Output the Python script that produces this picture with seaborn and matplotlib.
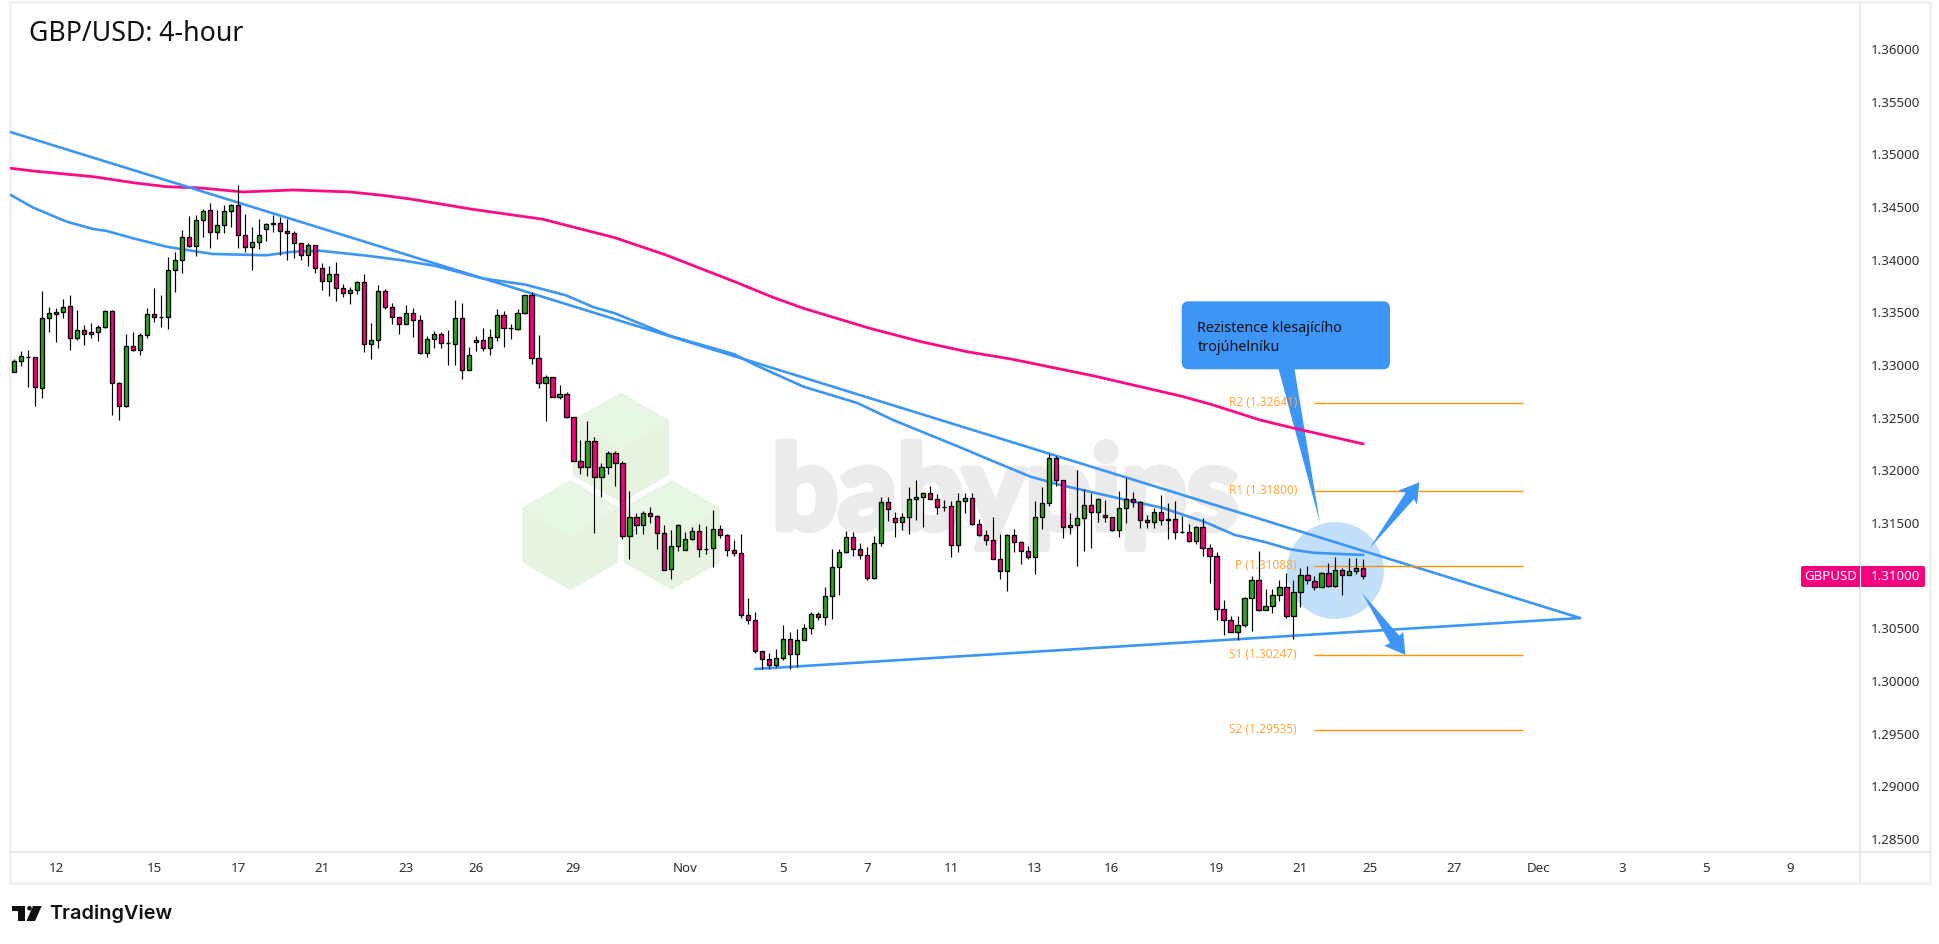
import numpy as np
import pandas as pd
import matplotlib
matplotlib.use("Agg")
import matplotlib.pyplot as plt
from matplotlib.patches import Polygon, Circle, FancyBboxPatch, Rectangle
import matplotlib.patheffects as pe
import seaborn as sns

# velas GBP/USD 4h
opens = [
    1.32938, 1.33036, 1.33078, 1.33074, 1.32786, 1.33444, 1.33482, 1.33501, 1.33558, 1.33254,
    1.33330, 1.33311, 1.33311, 1.33359, 1.33511, 1.32827, 1.32608, 1.33178, 1.33147, 1.33283,
    1.33482, 1.33454, 1.33454, 1.33900, 1.33995, 1.34213, 1.34134, 1.34375, 1.34470, 1.34261,
    1.34327, 1.34460, 1.34517, 1.34232, 1.34118, 1.34166, 1.34289, 1.34346, 1.34346, 1.34270,
    1.34251, 1.34156, 1.34042, 1.34137, 1.33919, 1.33796, 1.33862, 1.33729, 1.33682, 1.33710,
    1.33786, 1.33197, 1.33235, 1.33701, 1.33549, 1.33454, 1.33387, 1.33492, 1.33425, 1.33118,
    1.33245, 1.33292, 1.33207, 1.33197, 1.33444, 1.32950, 1.33216, 1.33235, 1.33159, 1.33264,
    1.33473, 1.33349, 1.33340, 1.33492, 1.33663, 1.33064, 1.32833, 1.32890, 1.32694, 1.32722,
    1.32504, 1.32086, 1.32029, 1.32276, 1.31934, 1.32029, 1.32162, 1.32067, 1.31374, 1.31554,
    1.31478, 1.31592, 1.31564, 1.31402, 1.31060, 1.31279, 1.31241, 1.31345, 1.31421, 1.31257,
    1.31260, 1.31440, 1.31383, 1.31241, 1.31212, 1.30624, 1.30576, 1.30282, 1.30206, 1.30149,
    1.30215, 1.30396, 1.30253, 1.30386, 1.30500, 1.30633, 1.30605, 1.30804, 1.31079, 1.31222,
    1.31364, 1.31250, 1.31193, 1.30975, 1.31307, 1.31697, 1.31545, 1.31507, 1.31554, 1.31725,
    1.31744, 1.31782, 1.31725, 1.31649, 1.31659, 1.31288, 1.31706, 1.31735, 1.31488, 1.31383,
    1.31336, 1.31155, 1.31041, 1.31383, 1.31317, 1.31231, 1.31174, 1.31554, 1.31687, 1.32115,
    1.31906, 1.31459, 1.31478, 1.31545, 1.31668, 1.31602, 1.31573, 1.31554, 1.31431, 1.31640,
    1.31725, 1.31697, 1.31526, 1.31507, 1.31602, 1.31535, 1.31535, 1.31412, 1.31412, 1.31326,
    1.31459, 1.31260, 1.31184, 1.30681, 1.30576, 1.30462, 1.30529, 1.30785, 1.30956, 1.30671,
    1.30709, 1.30814, 1.30890, 1.30614, 1.30842, 1.31003, 1.30947, 1.30890, 1.31023, 1.30899,
    1.31051, 1.31003, 1.31041, 1.31070,
]
highs = [
    1.33055, 1.33131, 1.33140, 1.33080, 1.33704, 1.33552, 1.33539, 1.33625, 1.33663, 1.33523,
    1.33381, 1.33400, 1.33381, 1.33523, 1.33520, 1.32840, 1.33295, 1.33314, 1.33305, 1.33539,
    1.33729, 1.33666, 1.34023, 1.34074, 1.34283, 1.34416, 1.34422, 1.34479, 1.34536, 1.34470,
    1.34517, 1.34527, 1.34707, 1.34432, 1.34312, 1.34384, 1.34346, 1.34426, 1.34403, 1.34384,
    1.34274, 1.34156, 1.34156, 1.34137, 1.33967, 1.33938, 1.33976, 1.33767, 1.33742, 1.33796,
    1.33862, 1.33400, 1.33758, 1.33720, 1.33587, 1.33460, 1.33571, 1.33542, 1.33473, 1.33273,
    1.33321, 1.33311, 1.33330, 1.33615, 1.33590, 1.33169, 1.33276, 1.33349, 1.33340, 1.33533,
    1.33511, 1.33387, 1.33530, 1.33663, 1.33691, 1.33283, 1.32903, 1.32890, 1.32808, 1.32741,
    1.32510, 1.32286, 1.32466, 1.32314, 1.32067, 1.32181, 1.32181, 1.32086, 1.31801, 1.31592,
    1.31611, 1.31649, 1.31573, 1.31478, 1.31431, 1.31488, 1.31412, 1.31459, 1.31488, 1.31469,
    1.31621, 1.31478, 1.31393, 1.31336, 1.31393, 1.30785, 1.30652, 1.30282, 1.30263, 1.30301,
    1.30529, 1.30462, 1.30491, 1.30538, 1.30652, 1.30652, 1.30890, 1.31250, 1.31250, 1.31421,
    1.31412, 1.31307, 1.31269, 1.31374, 1.31744, 1.31744, 1.31602, 1.31592, 1.31839, 1.31906,
    1.31792, 1.31849, 1.31773, 1.31716, 1.31706, 1.31782, 1.31782, 1.31782, 1.31535, 1.31431,
    1.31554, 1.31393, 1.31393, 1.31440, 1.31326, 1.31279, 1.31706, 1.31839, 1.32153, 1.32134,
    1.31906, 1.31592, 1.32001, 1.31820, 1.31782, 1.31735, 1.31716, 1.31554, 1.31801, 1.31925,
    1.31792, 1.31706, 1.31573, 1.31640, 1.31763, 1.31687, 1.31706, 1.31564, 1.31488, 1.31469,
    1.31545, 1.31298, 1.31222, 1.30766, 1.30614, 1.30614, 1.30795, 1.30994, 1.31231, 1.30871,
    1.30871, 1.30956, 1.31023, 1.30956, 1.31070, 1.31089, 1.30994, 1.31032, 1.31117, 1.31174,
    1.31070, 1.31165, 1.31165, 1.31155,
]
lows = [
    1.32931, 1.32995, 1.32795, 1.32615, 1.32691, 1.33314, 1.33223, 1.33451, 1.33147, 1.33242,
    1.33194, 1.33261, 1.33232, 1.33356, 1.32529, 1.32482, 1.32605, 1.33131, 1.33099, 1.33261,
    1.33409, 1.33365, 1.33346, 1.33697, 1.33878, 1.34125, 1.34039, 1.34220, 1.34115, 1.34201,
    1.34258, 1.34315, 1.34115, 1.34077, 1.33906, 1.34106, 1.34182, 1.34267, 1.34049, 1.34001,
    1.34020, 1.34001, 1.33944, 1.33878, 1.33713, 1.33659, 1.33612, 1.33647, 1.33583, 1.33679,
    1.33128, 1.33061, 1.33166, 1.33530, 1.33390, 1.33295, 1.33387, 1.33270, 1.33109, 1.33080,
    1.33166, 1.33166, 1.33004, 1.33004, 1.32871, 1.32950, 1.33137, 1.33131, 1.33099, 1.33232,
    1.33175, 1.33251, 1.33330, 1.33482, 1.33014, 1.32786, 1.32472, 1.32694, 1.32675, 1.32495,
    1.32086, 1.31969, 1.31950, 1.31402, 1.31751, 1.31969, 1.31855, 1.31352, 1.31162, 1.31399,
    1.31399, 1.31504, 1.31257, 1.31051, 1.30972, 1.31238, 1.31241, 1.31336, 1.31181, 1.31209,
    1.31086, 1.31355, 1.31190, 1.31184, 1.30595, 1.30538, 1.30263, 1.30111, 1.30111, 1.30136,
    1.30196, 1.30117, 1.30136, 1.30386, 1.30443, 1.30576, 1.30535, 1.30592, 1.30814, 1.31212,
    1.31184, 1.31155, 1.30956, 1.30966, 1.31279, 1.31516, 1.31371, 1.31431, 1.31393, 1.31526,
    1.31459, 1.31725, 1.31583, 1.31611, 1.31174, 1.31222, 1.31592, 1.31478, 1.31374, 1.31288,
    1.31155, 1.30966, 1.30852, 1.31222, 1.31108, 1.31155, 1.31013, 1.31440, 1.31659, 1.31849,
    1.31355, 1.31393, 1.31089, 1.31231, 1.31260, 1.31507, 1.31507, 1.31421, 1.31364, 1.31497,
    1.31649, 1.31450, 1.31456, 1.31456, 1.31478, 1.31345, 1.31345, 1.31402, 1.31317, 1.31298,
    1.31184, 1.30928, 1.30576, 1.30440, 1.30462, 1.30386, 1.30510, 1.30472, 1.30662, 1.30671,
    1.30643, 1.30757, 1.30595, 1.30396, 1.30700, 1.30918, 1.30861, 1.30890, 1.30890, 1.30890,
    1.30814, 1.31003, 1.31013, 1.30966,
]
closes = [
    1.33036, 1.33083, 1.33080, 1.32789, 1.33444, 1.33492, 1.33501, 1.33555, 1.33254, 1.33330,
    1.33292, 1.33292, 1.33359, 1.33514, 1.32827, 1.32608, 1.33178, 1.33147, 1.33283, 1.33482,
    1.33454, 1.33456, 1.33900, 1.33995, 1.34213, 1.34134, 1.34375, 1.34467, 1.34261, 1.34327,
    1.34460, 1.34517, 1.34232, 1.34118, 1.34166, 1.34232, 1.34337, 1.34337, 1.34270, 1.34251,
    1.34156, 1.34042, 1.34137, 1.33919, 1.33796, 1.33862, 1.33729, 1.33682, 1.33710, 1.33786,
    1.33197, 1.33235, 1.33701, 1.33549, 1.33454, 1.33387, 1.33492, 1.33425, 1.33118, 1.33245,
    1.33292, 1.33207, 1.33205, 1.33444, 1.32950, 1.33093, 1.33235, 1.33159, 1.33264, 1.33473,
    1.33349, 1.33351, 1.33492, 1.33663, 1.33064, 1.32833, 1.32890, 1.32694, 1.32722, 1.32504,
    1.32086, 1.32029, 1.32276, 1.31934, 1.32029, 1.32162, 1.32067, 1.31374, 1.31554, 1.31478,
    1.31592, 1.31564, 1.31402, 1.31057, 1.31279, 1.31478, 1.31345, 1.31421, 1.31250, 1.31254,
    1.31440, 1.31383, 1.31241, 1.31212, 1.30624, 1.30576, 1.30282, 1.30206, 1.30149, 1.30215,
    1.30396, 1.30253, 1.30386, 1.30500, 1.30633, 1.30605, 1.30804, 1.31079, 1.31222, 1.31364,
    1.31250, 1.31193, 1.30975, 1.31307, 1.31697, 1.31630, 1.31507, 1.31554, 1.31725, 1.31744,
    1.31782, 1.31725, 1.31649, 1.31655, 1.31288, 1.31706, 1.31735, 1.31488, 1.31383, 1.31336,
    1.31155, 1.31041, 1.31383, 1.31317, 1.31231, 1.31174, 1.31554, 1.31687, 1.32115, 1.31906,
    1.31459, 1.31478, 1.31545, 1.31668, 1.31602, 1.31725, 1.31554, 1.31431, 1.31640, 1.31725,
    1.31697, 1.31526, 1.31507, 1.31602, 1.31526, 1.31526, 1.31412, 1.31414, 1.31326, 1.31459,
    1.31260, 1.31184, 1.30681, 1.30576, 1.30462, 1.30529, 1.30785, 1.30956, 1.30671, 1.30709,
    1.30814, 1.30890, 1.30614, 1.30842, 1.31003, 1.30956, 1.30890, 1.31023, 1.30899, 1.31051,
    1.31003, 1.31041, 1.31070, 1.30994,
]

# medias moviles: posicion en velas y precio
ma_fast_x = [-0.5, 2.7, 7.5, 11.3, 13.2, 17, 21.8, 24.7, 28.4, 36.1, 39.9, 43.7, 50.4, 55.2, 60.3, 66.9,
             73.1, 78.9, 82.9, 85.9, 93.9, 103, 106, 112.9, 120.6, 125.7, 135.1, 139.6, 145.4, 149.7,
             157, 164.3, 170.2, 174.6, 178.9, 182.5, 185.8, 189.7, 193]
ma_fast_y = [1.34615, 1.34495, 1.34362, 1.34292, 1.34274, 1.34204, 1.34124, 1.34093, 1.34055, 1.34043,
             1.34077, 1.34086, 1.34039, 1.33998, 1.33941, 1.33824, 1.33764, 1.33663, 1.33549, 1.33492,
             1.33276, 1.33103, 1.33001, 1.32795, 1.32640, 1.32479, 1.32225, 1.32099, 1.31940, 1.31861,
             1.31750, 1.31643, 1.31513, 1.31387, 1.31320, 1.31251, 1.31218, 1.31206, 1.31197]
ma_slow_x = [-0.5, 2.7, 11.3, 17, 21.8, 26.6, 32.7, 39.9, 48, 52.3, 56.7, 65.5, 75.6, 85.9, 93.2, 103.4,
             108.5, 112.9, 122.4, 129.7, 136.3, 142.8, 154.5, 166.8, 171, 178.2, 182.9, 193]
ma_slow_y = [1.34869, 1.34843, 1.34789, 1.34732, 1.34694, 1.34682, 1.34644, 1.34663, 1.34644, 1.34615,
             1.34577, 1.34480, 1.34385, 1.34210, 1.34046, 1.33783, 1.33644, 1.33539, 1.33349, 1.33222,
             1.33127, 1.33055, 1.32896, 1.32707, 1.32631, 1.32479, 1.32403, 1.32251]

# lineas del triangulo
upper_x = [-0.6, 224]
upper_y = [1.35214, 1.30598]
lower_x = [106, 224]
lower_y = [1.30114, 1.30598]

pivot_names = ["R2", "R1", "P", "S1", "S2"]
pivot_values = [1.32641, 1.31800, 1.31088, 1.30247, 1.29535]
pivot_start = 186
pivot_end = 215.8

price_ticks = [1.285, 1.29, 1.295, 1.30, 1.305, 1.31, 1.315, 1.32, 1.325, 1.33,
               1.335, 1.34, 1.345, 1.35, 1.355, 1.36]
date_pos = [6, 20, 32, 44, 56, 66, 80, 96, 110, 122, 134, 146, 157, 172, 184, 194, 206, 218, 230, 242, 254]
date_labels = ["12", "15", "17", "21", "23", "26", "29", "Nov", "5", "7", "11", "13", "16", "19", "21",
               "25", "27", "Dec", "3", "5", "9"]

GREEN = "#2aa81a"
PINK = "#f7007f"
BLUE = "#3d96f5"
ORANGE = "#ff9408"
TEXT = "#2a2e39"

sns.set_theme(style="white")
plt.rcParams["font.family"] = ["Noto Sans", "DejaVu Sans"]

fig = plt.figure(figsize=(19.4, 9.44), dpi=100, facecolor="white")


def pixel_axes(z):
    a = fig.add_axes([0, 0, 1, 1], zorder=z)
    a.set_xlim(0, 1940)
    a.set_ylim(944, 0)
    a.axis("off")
    a.patch.set_alpha(0)
    return a


# fondo: marco, marca de agua y dibujos
bg = pixel_axes(0)
bg.add_patch(Rectangle((10, 2), 1920, 881, fc="white", ec="#f1f1f1", lw=2))
bg.plot([10, 1930], [852, 852], color="#e3e3e3", lw=1.1)
bg.plot([1860, 1860], [2, 883], color="#e3e3e3", lw=1.1)


def hexagon(cx, top):
    w, s, h = 46.7, 26.7, 106.7
    outer = [(cx, top), (cx + w, top + s), (cx + w, top + h - s), (cx, top + h), (cx - w, top + h - s), (cx - w, top + s)]
    face = [(cx, top), (cx + w, top + s), (cx, top + 55), (cx - w, top + s)]
    bg.add_patch(Polygon(outer, closed=True, fc="#e6f3e1", ec="#e6f3e1", lw=2, joinstyle="round"))
    bg.add_patch(Polygon(face, closed=True, fc="#e8f6e5", ec="none"))


hexagon(621, 394.3)
hexagon(570.3, 481.7)
hexagon(671.7, 481.7)
bg.text(1005, 529, "babypips", fontsize=84, fontweight="bold", family="Lato", color="#ebebeb", ha="center",
        va="baseline", path_effects=[pe.withStroke(linewidth=5, foreground="#ebebeb")])

bg.add_patch(Circle((1335.3, 570.5), 48.5, fc="#c2dffb", ec="none"))
bg.add_patch(Polygon([(1278.3, 368), (1294.3, 368), (1320, 523)], closed=True, fc=BLUE, ec="none"))
bg.add_patch(FancyBboxPatch((1181.7, 301.3), 208.3, 68, boxstyle="round,pad=0,rounding_size=7", fc=BLUE, ec="none"))
bg.text(1197.3, 328, "Rezistence klesajícího", fontsize=10.3, color="#0c0f14", va="center")
bg.text(1197.3, 347.5, "trojúhelníku", fontsize=10.3, color="#0c0f14", va="center")

# grafico principal
ax = fig.add_axes([10 / 1940, 1 - 852 / 944, 1850 / 1940, 850 / 944], zorder=1)
ax.patch.set_alpha(0)
df = pd.DataFrame({"open": opens, "high": highs, "low": lows, "close": closes})
df["i"] = np.arange(len(df))
df["color"] = np.where(df["close"] >= df["open"], GREEN, PINK)

sns.lineplot(x=ma_fast_x, y=ma_fast_y, sort=False, estimator=None, color=BLUE, linewidth=1.9, ax=ax, zorder=2)
sns.lineplot(x=ma_slow_x, y=ma_slow_y, sort=False, estimator=None, color="#ff0a85", linewidth=2.0, ax=ax, zorder=2)
sns.lineplot(x=upper_x, y=upper_y, sort=False, estimator=None, color=BLUE, linewidth=1.9, ax=ax, zorder=2)
sns.lineplot(x=lower_x, y=lower_y, sort=False, estimator=None, color=BLUE, linewidth=1.9, ax=ax, zorder=2)

ax.hlines(pivot_values, pivot_start, pivot_end, color=ORANGE, lw=1.0, zorder=2)
for name, value in zip(pivot_names, pivot_values):
    ax.text(183.5, value + 0.00005, f"{name} ({value:.5f})", color="#ffa83f", fontsize=8.5, ha="right", va="center", zorder=2)

ax.vlines(df["i"], df["low"], df["high"], color="black", lw=0.85, zorder=3)
ax.bar(df["i"], (df["close"] - df["open"]).abs(), bottom=df[["open", "close"]].min(axis=1), width=0.6,
       color=df["color"], edgecolor="black", linewidth=0.95, zorder=4)

ax.set_xlim(-0.615, 264.05)
ax.set_ylim(1.28376, 1.36448)
for s in ax.spines.values():
    s.set_visible(False)
ax.yaxis.tick_right()
ax.set_yticks(price_ticks)
ax.set_yticklabels([f"{p:.5f}" for p in price_ticks], fontsize=9.6, color=TEXT)
ax.set_xticks(date_pos)
ax.set_xticklabels(date_labels, fontsize=9.6, color=TEXT)
ax.tick_params(axis="y", length=0, pad=7.5)
ax.tick_params(axis="x", length=0, pad=7)
ax.get_xticklabels()[date_labels.index("Nov")].set_fontweight("bold")
ax.get_xticklabels()[date_labels.index("Dec")].set_fontweight("bold")
ax.set_xlabel("")
ax.set_ylabel("")

# encima: flechas, etiqueta de precio, titulo y logo
fg = pixel_axes(2)
up_arrow = [(1369.3, 548.7), (1405.7, 492.7), (1398.3, 490.7), (1419.3, 482.3), (1417, 504.7), (1414, 499)]
down_arrow = [(1362.3, 593.3), (1399.3, 635.7), (1403.3, 632), (1405.3, 655), (1384.3, 645.7), (1390, 643.3)]
fg.add_patch(Polygon(up_arrow, closed=True, fc=BLUE, ec="none"))
fg.add_patch(Polygon(down_arrow, closed=True, fc=BLUE, ec="none"))

fg.add_patch(FancyBboxPatch((1801, 566), 124, 21, boxstyle="round,pad=0,rounding_size=2", fc=PINK, ec="none"))
fg.plot([1860, 1860], [566, 587], color="white", lw=0.8)
fg.text(1830.5, 576.5, "GBPUSD", color="white", fontsize=9.6, ha="center", va="center")
fg.text(1895, 576.5, "1.31000", color="white", fontsize=9.6, fontweight="medium", ha="center", va="center")

fg.text(29.5, 40.7, "GBP/USD: 4-hour", fontsize=19.2, color="#111111", va="baseline")

fg.add_patch(Polygon([(12, 906), (25.3, 906), (25.3, 921), (18.5, 921), (18.5, 911), (12, 911)], closed=True, fc="#111111", ec="none"))
fg.add_patch(Circle((29.5, 908.3), 2.3, fc="#111111", ec="none"))
fg.add_patch(Polygon([(33, 906), (41.7, 906), (35, 921), (26.5, 921)], closed=True, fc="#111111", ec="none"))
fg.text(49, 914, "TradingView", fontsize=14.3, family="Inter", fontweight="semibold", color="#111111", va="center")

fig.savefig("out.png", dpi=100)
